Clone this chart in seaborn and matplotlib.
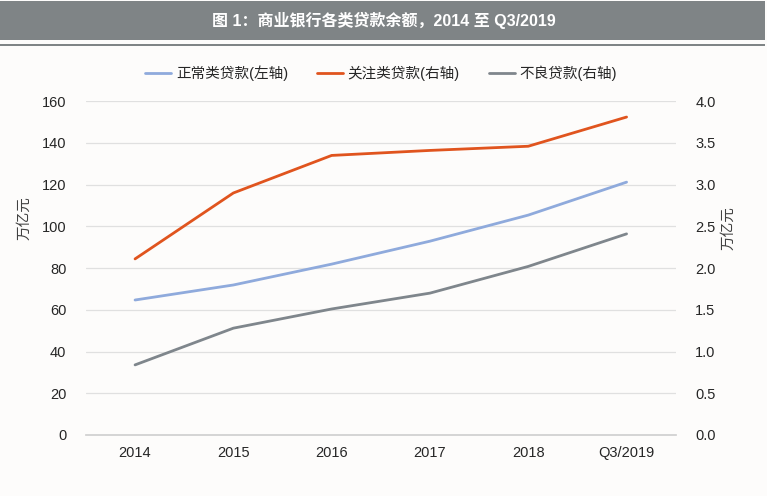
import matplotlib
matplotlib.use("Agg")
import matplotlib.pyplot as plt
import seaborn as sns
import pandas as pd
from matplotlib.patches import Rectangle
from matplotlib.lines import Line2D

categories = ["2014", "2015", "2016", "2017", "2018", "Q3/2019"]
normal_loans = [64.7, 71.9, 81.9, 92.9, 105.4, 121.2]
special_mention = [2.11, 2.90, 3.35, 3.41, 3.46, 3.81]
npl = [0.84, 1.28, 1.51, 1.70, 2.02, 2.41]
left_ticks = [0, 20, 40, 60, 80, 100, 120, 140, 160]
right_ticks = [0.0, 0.5, 1.0, 1.5, 2.0, 2.5, 3.0, 3.5, 4.0]
labels = ["正常类贷款(左轴)", "关注类贷款(右轴)", "不良贷款(右轴)"]
colors = ["#8FAADC", "#E0541E", "#7F868C"]

sns.set_theme(style="white")
FAM = ["Liberation Sans", "Noto Sans CJK SC", "DejaVu Sans"]
plt.rcParams["font.family"] = FAM

bg = "#FDFCFB"
fig = plt.figure(figsize=(7.67, 4.96), dpi=100, facecolor=bg)
ax = fig.add_axes([0.112, 0.123, 0.769, 0.673])
ax.set_facecolor(bg)
ax2 = ax.twinx()

df = pd.DataFrame({"cat": categories, "normal": normal_loans,
                   "sm": special_mention, "npl": npl})
x = list(range(len(categories)))
df["x"] = x

sns.lineplot(data=df, x="x", y="normal", ax=ax, color=colors[0], lw=2)
sns.lineplot(data=df, x="x", y="sm", ax=ax2, color=colors[1], lw=2)
sns.lineplot(data=df, x="x", y="npl", ax=ax2, color=colors[2], lw=2)

ax.set_xlim(-0.5, len(categories) - 0.5)
ax.set_ylim(0, 160)
ax2.set_ylim(0, 4.0)
ax.set_yticks(left_ticks)
ax.set_yticklabels([str(t) for t in left_ticks])
ax2.set_yticks(right_ticks)
ax2.set_yticklabels([f"{t:.1f}" for t in right_ticks])
ax.set_xticks(x)
ax.set_xticklabels(categories)
ax.grid(axis="y", color="#E0E0E0", lw=0.9)
ax.set_axisbelow(True)
for a in (ax, ax2):
    for s in a.spines.values():
        s.set_visible(False)
    a.tick_params(axis="both", length=0, labelsize=10.5, colors="#262626")
ax.spines["bottom"].set_visible(True)
ax.spines["bottom"].set_color("#D0D0D0")
ax.tick_params(axis="x", pad=8)
ax.tick_params(axis="y", pad=14)
ax2.tick_params(axis="y", pad=14)
ax.set_xlabel("")
ax.set_ylabel("万亿元", fontsize=10.5, color="#404040")
ax2.set_ylabel("万亿元", fontsize=10.5, color="#404040", rotation=90)
ax.yaxis.set_label_coords(-0.093, 0.65)
ax2.yaxis.set_label_coords(1.078, 0.62)

handles = [Line2D([0], [0], color=c, lw=2) for c in colors]
fig.legend(handles, labels, loc="center", bbox_to_anchor=(0.497, 0.853), ncol=3,
           frameon=False, fontsize=10.5, handlelength=1.8, columnspacing=2.0,
           handletextpad=0.3)

# title band
fig.patches.append(Rectangle((0.0, 0.919), 0.997, 0.078, transform=fig.transFigure,
                             facecolor="#7F8486", edgecolor="none"))
fig.patches.append(Rectangle((0.0, 0.907), 0.997, 0.005, transform=fig.transFigure,
                             facecolor="#7F8486", edgecolor="none"))
fig.text(0.5, 0.958, "图 1：商业银行各类贷款余额，2014 至 Q3/2019", ha="center", va="center",
         color="white", fontsize=11.5, fontweight="bold", family=FAM)

fig.savefig("out.png", dpi=100, facecolor=bg)
